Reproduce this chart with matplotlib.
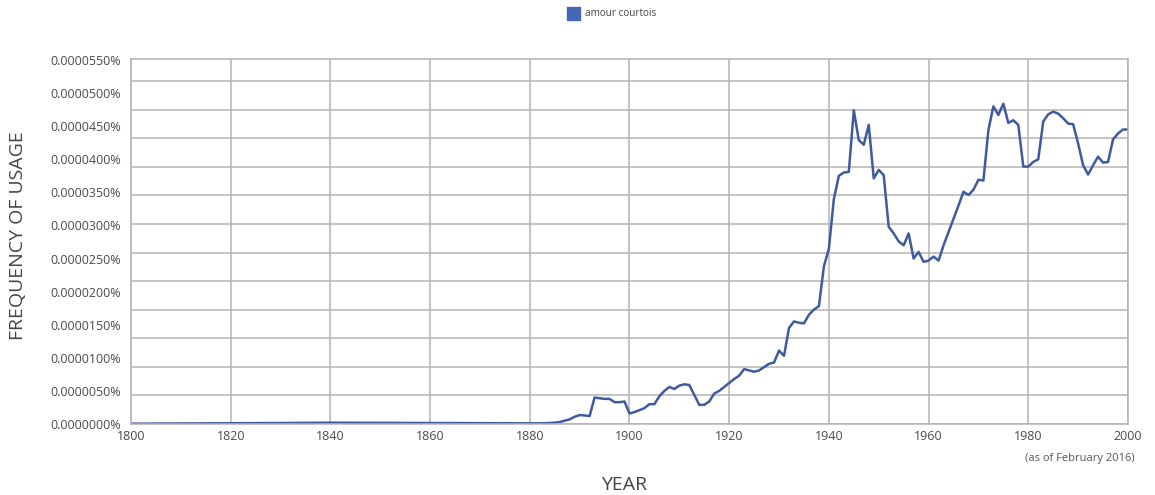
import numpy as np
import matplotlib.pyplot as plt

# frequency values in units of 1e-6 percent (0.0000500% == 50)
years = [1800, 1810, 1820, 1830, 1840, 1850, 1860, 1870, 1880,
         1881, 1882, 1883, 1884, 1885, 1886, 1887, 1888, 1889, 1890,
         1891, 1892, 1893, 1894, 1895, 1896, 1897, 1898, 1899, 1900,
         1901, 1902, 1903, 1904, 1905, 1906, 1907, 1908, 1909, 1910,
         1911, 1912, 1913, 1914, 1915, 1916, 1917, 1918, 1919, 1920,
         1921, 1922, 1923, 1924, 1925, 1926, 1927, 1928, 1929, 1930,
         1931, 1932, 1933, 1934, 1935, 1936, 1937, 1938, 1939, 1940,
         1941, 1942, 1943, 1944, 1945, 1946, 1947, 1948, 1949, 1950,
         1951, 1952, 1953, 1954, 1955, 1956, 1957, 1958, 1959, 1960,
         1961, 1962, 1963, 1964, 1965, 1966, 1967, 1968, 1969, 1970,
         1971, 1972, 1973, 1974, 1975, 1976, 1977, 1978, 1979, 1980,
         1981, 1982, 1983, 1984, 1985, 1986, 1987, 1988, 1989, 1990,
         1991, 1992, 1993, 1994, 1995, 1996, 1997, 1998, 1999, 2000]
freq = [0.05, 0.08, 0.1, 0.15, 0.2, 0.18, 0.15, 0.12, 0.1,
        0.1, 0.1, 0.12, 0.15, 0.2, 0.3, 0.5, 0.7, 1.1, 1.35,
        1.3, 1.2, 4.0, 3.9, 3.8, 3.8, 3.3, 3.3, 3.4, 1.6,
        1.8, 2.1, 2.4, 3.0, 3.0, 4.2, 5.0, 5.6, 5.3, 5.8,
        6.0, 5.9, 4.4, 2.9, 2.9, 3.4, 4.6, 5.0, 5.6, 6.2,
        6.8, 7.3, 8.3, 8.1, 7.9, 8.1, 8.6, 9.1, 9.3, 11.1,
        10.3, 14.5, 15.5, 15.3, 15.2, 16.5, 17.3, 17.8, 23.8, 26.5,
        34.0, 37.5, 38.0, 38.1, 47.4, 42.9, 42.2, 45.2, 37.1, 38.4,
        37.6, 29.8, 28.8, 27.6, 27.0, 28.8, 25.0, 26.0, 24.5, 24.7,
        25.3, 24.7, 27.0, 29.0, 31.0, 33.0, 35.1, 34.6, 35.4, 36.9,
        36.8, 44.4, 48.0, 46.7, 48.4, 45.5, 45.9, 45.2, 38.9, 38.9,
        39.6, 40.0, 45.7, 46.8, 47.2, 46.9, 46.2, 45.4, 45.3, 42.4,
        39.1, 37.7, 39.1, 40.4, 39.5, 39.6, 43.0, 43.9, 44.5, 44.5]
series_name = "amour courtois"
y_ticks = [0, 5, 10, 15, 20, 25, 30, 35, 40, 45, 50, 55]
x_ticks = [1800, 1820, 1840, 1860, 1880, 1900, 1920, 1940, 1960, 1980, 2000]

plt.rcParams['font.family'] = ['Open Sans', 'DejaVu Sans']

fig = plt.figure(figsize=(11.55, 4.95), dpi=100)
ax = fig.add_axes([0.1134, 0.1434, 0.8632, 0.738])

line_color = '#3f5a9e'
grid_color = '#b4b4b4'

ax.plot(years, freq, color=line_color, lw=1.8, solid_joinstyle='round')

ax.set_xlim(1800, 2000)
ax.set_ylim(0, 55.2)

# horizontal grid is not aligned with the labels in the original
for g in np.linspace(0, 51.8, 13):
    ax.axhline(g, color=grid_color, lw=1.1, zorder=0)
ax.set_xticks(x_ticks)
ax.grid(axis='x', color=grid_color, lw=1.1)
ax.set_axisbelow(True)

ax.set_yticks(y_ticks)
ax.set_yticklabels(['{:.7f}%'.format(v * 1e-6) for v in y_ticks])
ax.tick_params(length=0, labelsize=9, labelcolor='#4a4a4a')
ax.tick_params(axis='y', pad=7)
ax.tick_params(axis='x', pad=4)

for s in ax.spines.values():
    s.set_color(grid_color)
    s.set_linewidth(1.1)

fig.text(18 / 1155, 1 - 236 / 495, "FREQUENCY OF USAGE", rotation=90,
         ha='center', va='center', fontsize=14, color='#444444')
fig.text(624 / 1155, 1 - 485 / 495, "YEAR", ha='center', va='center',
         fontsize=14, color='#444444')
fig.text(1080 / 1155, 1 - 458 / 495, "(as of February 2016)", ha='center',
         va='center', fontsize=8, color='#555555')

# legend
fig.patches.append(plt.Rectangle((567 / 1155, 1 - 20 / 495), 13 / 1155, 13 / 495,
                                 transform=fig.transFigure, color='#4466b4'))
fig.text(585 / 1155, 1 - 14 / 495, series_name, ha='left', va='center',
         fontsize=7.2, color='#444444')

fig.savefig('out.png', dpi=100)
